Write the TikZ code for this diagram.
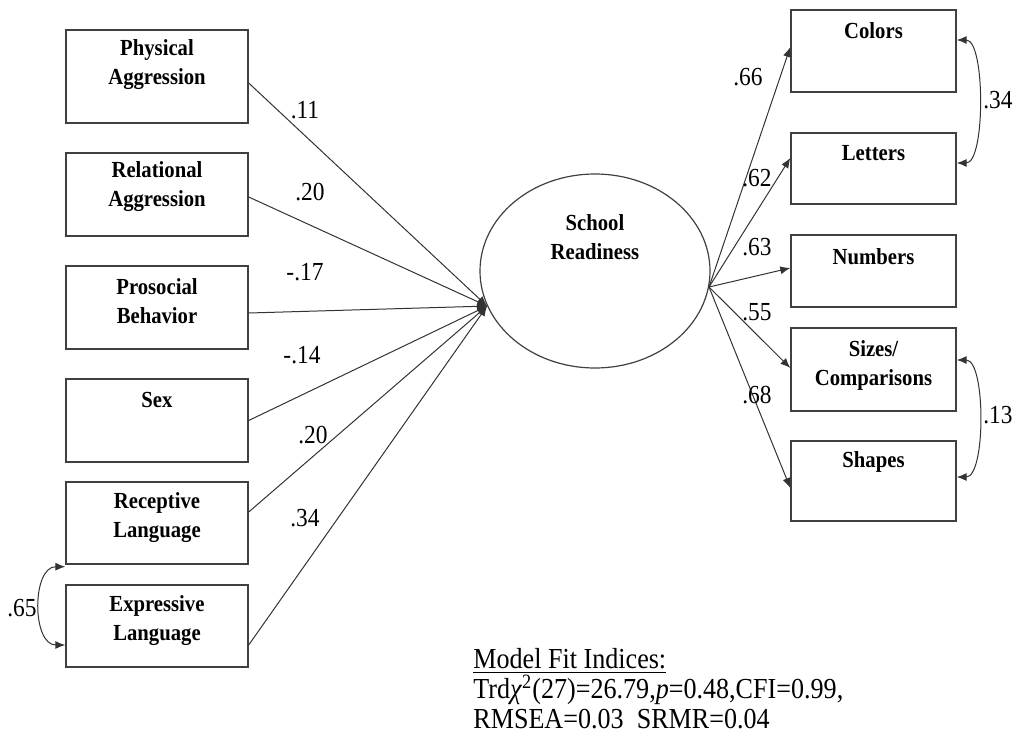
\documentclass[tikz,border=0pt]{standalone}
\usepackage{fontspec}
\setmainfont{Liberation Serif}[FakeStretch=0.9]
\usetikzlibrary{positioning, arrows.meta, shapes.geometric, calc}

\begin{document}
\begin{tikzpicture}[x=0.5pt, y=-0.5pt, >={Latex[length=5pt,width=4pt]},
  box/.style={draw=black!75, line width=0.7pt, minimum width=91pt, inner sep=0pt},
  rbox/.style={box, minimum width=82.5pt},
  btxt/.style={align=center, font=\fontsize{11.5}{14.5}\selectfont\bfseries, inner sep=0pt},
  coef/.style={font=\fontsize{13}{15}\selectfont, inner sep=0pt},
  lnk/.style={draw=black!80, line width=0.5pt}]

\useasboundingbox (0,0) rectangle (1018,739);

% predictors
\node[box, minimum height=46.5pt] (pa) at (157,76.5) {};
\node[box, minimum height=41.5pt] (ra) at (157,194.5) {};
\node[box, minimum height=41.5pt] (pb) at (157,307.5) {};
\node[box, minimum height=41.5pt] (sex) at (157,420.5) {};
\node[box, minimum height=41pt] (rl) at (157,523) {};
\node[box, minimum height=41pt] (el) at (157,626) {};

\node[btxt] (pa-t) at (157,64.5) {Physical\\Aggression};
\node[btxt] (ra-t) at (157,187) {Relational\\Aggression};
\node[btxt] (pb-t) at (157,301) {Prosocial\\Behavior};
\node[btxt] (sex-t) at (157,400) {Sex};
\node[btxt] (rl-t) at (157,517.5) {Receptive\\Language};
\node[btxt] (el-t) at (157,620.5) {Expressive\\Language};

% latent factor
\node[ellipse, draw=black!75, line width=0.6pt, minimum width=115pt, minimum height=97pt, inner sep=0pt] (sr) at (595,271) {};
\node[btxt] (sr-t) at (595,237.5) {School\\Readiness};

% indicators
\node[rbox, minimum height=41pt] (col) at (873.5,51) {};
\node[rbox, minimum height=35.5pt] (let) at (873.5,168.5) {};
\node[rbox, minimum height=36pt] (num) at (873.5,271) {};
\node[rbox, minimum height=41.5pt] (siz) at (873.5,369.5) {};
\node[rbox, minimum height=40pt] (sha) at (873.5,481) {};

\node[btxt] (col-t) at (873.5,31) {Colors};
\node[btxt] (let-t) at (873.5,153) {Letters};
\node[btxt] (num-t) at (873.5,257) {Numbers};
\node[btxt] (siz-t) at (873.5,365) {Sizes/\\Comparisons};
\node[btxt] (sha-t) at (873.5,462) {Shapes};

% paths in
\draw[lnk,->] ($(pa.east)+(0,6.5)$) -- (sr.198);
\draw[lnk,->] ($(ra.east)+(0,2.5)$) -- (sr.198);
\draw[lnk,->] ($(pb.east)+(0,5.5)$) -- (sr.198);
\draw[lnk,->] (sex.east) -- (sr.198);
\draw[lnk,->] ($(rl.east)+(0,-11)$) -- (sr.198);
\draw[lnk,->] ($(el.east)+(0,19)$) -- (sr.198);

% loadings
\draw[lnk,->] (sr.352) -- ($(col.west)+(0,-4)$);
\draw[lnk,->] (sr.352) -- ($(let.west)+(0,-10.5)$);
\draw[lnk,->] (sr.352) -- ($(num.west)+(0,-3)$);
\draw[lnk,->] (sr.352) -- ($(siz.west)+(0,-1.5)$);
\draw[lnk,->] (sr.352) -- ($(sha.west)+(0,7)$);

% covariances
\draw[lnk,<->] ($(rl.south west)+(0,2)$) to[out=180,in=180,looseness=1.1] ($(el.west)+(0,19)$);
\draw[lnk,<->] ($(col.east)+(0,-11)$) to[out=0,in=0,looseness=0.6] ($(let.east)+(0,-5.5)$);
\draw[lnk,<->] ($(siz.east)+(0,-9.5)$) to[out=0,in=0,looseness=0.64] ($(sha.east)+(0,-4)$);

% coefficients
\node[coef] (c-pa) at (305,110) {.11};
\node[coef] (c-ra) at (310,192) {.20};
\node[coef] (c-pb) at (305,272) {-.17};
\node[coef] (c-sex) at (302,355) {-.14};
\node[coef] (c-rl) at (313,435) {.20};
\node[coef] (c-el) at (305,518) {.34};
\node[coef] (c-lang) at (22,608) {.65};

\node[coef] (c-col) at (748,77) {.66};
\node[coef] (c-let) at (757,178) {.62};
\node[coef] (c-num) at (757,247) {.63};
\node[coef] (c-siz) at (757,312) {.55};
\node[coef] (c-sha) at (757,395) {.68};
\node[coef] (c-cl) at (998,100) {.34};
\node[coef] (c-ss) at (998,415) {.13};

% fit
\node[anchor=west, align=left, font=\fontsize{14.5}{15}\selectfont, inner sep=0pt] (fit) at (473,689)
  {\underline{Model Fit Indices:}\\Trd\textit{χ}\textsuperscript{2}(27)=26.79,\textit{p}=0.48,CFI=0.99,\\RMSEA=0.03\ \ SRMR=0.04};
\end{tikzpicture}
\end{document}
